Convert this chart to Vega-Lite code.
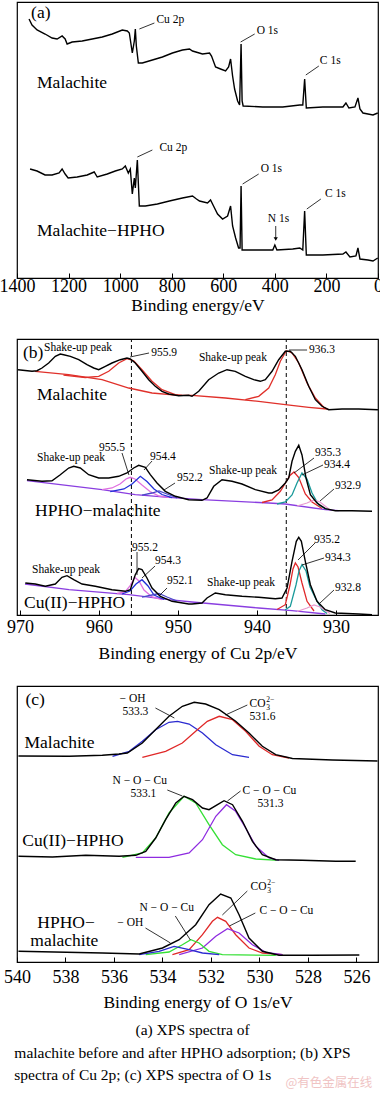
{
"$schema": "https://vega.github.io/schema/vega-lite/v6.json",
"padding": {"left": -2, "top": 1, "right": 0, "bottom": 0},
"spacing": 22,
"resolve": {"scale": {"color": "independent"}},
"config": {
  "view": {"stroke": "black", "strokeWidth": 1.2},
  "axis": {"labelFont": "Liberation Serif", "titleFont": "Liberation Serif", "labelFontSize": 18, "titleFontSize": 17.5, "titleFontWeight": "normal", "labelColor": "black", "titleColor": "black", "grid": false, "domain": false, "tickSize": -5, "tickColor": "black", "labelFlush": false, "labelOverlap": false, "format": "d"},
  "text": {"font": "Liberation Serif", "align": "left", "baseline": "middle", "color": "black"}
},
"datasets": {
  "a_meas": [
    {"s":"m","E":1353.3,"I":259},{"s":"m","E":1341.7,"I":253},{"s":"m","E":1322.2,"I":248},{"s":"m","E":1291.1,"I":244},{"s":"m","E":1263.9,"I":240},{"s":"m","E":1244.4,"I":239},{"s":"m","E":1225.0,"I":242},{"s":"m","E":1213.3,"I":239},{"s":"m","E":1205.6,"I":234},{"s":"m","E":1186.1,"I":236},{"s":"m","E":1147.2,"I":237},{"s":"m","E":1108.3,"I":239},{"s":"m","E":1069.4,"I":241},{"s":"m","E":1030.6,"I":244},{"s":"m","E":991.7,"I":248},{"s":"m","E":972.2,"I":247},{"s":"m","E":964.4,"I":245},{"s":"m","E":952.8,"I":225},{"s":"m","E":945.0,"I":237},{"s":"m","E":941.1,"I":249},{"s":"m","E":937.2,"I":232},{"s":"m","E":929.4,"I":215},{"s":"m","E":913.9,"I":215},{"s":"m","E":875.0,"I":218},{"s":"m","E":836.1,"I":221},{"s":"m","E":797.2,"I":225},{"s":"m","E":758.3,"I":228},{"s":"m","E":731.1,"I":229},{"s":"m","E":719.4,"I":227},{"s":"m","E":680.6,"I":224},{"s":"m","E":653.3,"I":225},{"s":"m","E":645.6,"I":222},{"s":"m","E":630.0,"I":211},{"s":"m","E":610.6,"I":209},{"s":"m","E":591.1,"I":207},{"s":"m","E":579.4,"I":211},{"s":"m","E":571.7,"I":219},{"s":"m","E":563.9,"I":202},{"s":"m","E":556.1,"I":189},{"s":"m","E":544.4,"I":177},{"s":"m","E":536.7,"I":173},{"s":"m","E":531.0,"I":234},{"s":"m","E":527.0,"I":177},{"s":"m","E":523.0,"I":172},{"s":"m","E":447.2,"I":171},{"s":"m","E":369.4,"I":171},{"s":"m","E":303.3,"I":173},{"s":"m","E":291.7,"I":173},{"s":"m","E":284.5,"I":199},{"s":"m","E":278.0,"I":170},{"s":"m","E":213.9,"I":171},{"s":"m","E":136.1,"I":171},{"s":"m","E":124.4,"I":175},{"s":"m","E":112.8,"I":170},{"s":"m","E":89.4,"I":171},{"s":"m","E":77.8,"I":180},{"s":"m","E":70.0,"I":169},{"s":"m","E":58.3,"I":165},{"s":"m","E":19.4,"I":163},{"s":"m","E":1.0,"I":165},
    {"s":"h","E":1349.4,"I":109},{"s":"h","E":1322.2,"I":107},{"s":"h","E":1291.1,"I":103},{"s":"h","E":1263.9,"I":103},{"s":"h","E":1236.7,"I":105},{"s":"h","E":1225.0,"I":109},{"s":"h","E":1213.3,"I":104},{"s":"h","E":1201.7,"I":100},{"s":"h","E":1166.7,"I":101},{"s":"h","E":1127.8,"I":103},{"s":"h","E":1100.6,"I":106},{"s":"h","E":1088.9,"I":101},{"s":"h","E":1050.0,"I":104},{"s":"h","E":1018.9,"I":107},{"s":"h","E":991.7,"I":109},{"s":"h","E":980.0,"I":112},{"s":"h","E":968.3,"I":105},{"s":"h","E":960.6,"I":109},{"s":"h","E":952.8,"I":84},{"s":"h","E":945.0,"I":100},{"s":"h","E":941.1,"I":90},{"s":"h","E":933.3,"I":118},{"s":"h","E":925.6,"I":72},{"s":"h","E":902.2,"I":72},{"s":"h","E":855.6,"I":74},{"s":"h","E":808.9,"I":77},{"s":"h","E":758.3,"I":80},{"s":"h","E":719.4,"I":82},{"s":"h","E":703.9,"I":79},{"s":"h","E":692.2,"I":77},{"s":"h","E":661.1,"I":75},{"s":"h","E":649.4,"I":78},{"s":"h","E":637.8,"I":72},{"s":"h","E":622.2,"I":64},{"s":"h","E":602.8,"I":59},{"s":"h","E":583.3,"I":62},{"s":"h","E":571.7,"I":72},{"s":"h","E":563.9,"I":52},{"s":"h","E":552.2,"I":40},{"s":"h","E":540.6,"I":30},{"s":"h","E":535.0,"I":30},{"s":"h","E":531.0,"I":92},{"s":"h","E":527.0,"I":28},{"s":"h","E":466.7,"I":28},{"s":"h","E":420.0,"I":28},{"s":"h","E":408.0,"I":28},{"s":"h","E":400.0,"I":33},{"s":"h","E":392.0,"I":28},{"s":"h","E":330.6,"I":29},{"s":"h","E":303.3,"I":30},{"s":"h","E":291.7,"I":28},{"s":"h","E":284.5,"I":67},{"s":"h","E":278.0,"I":23},{"s":"h","E":213.9,"I":23},{"s":"h","E":136.1,"I":24},{"s":"h","E":124.4,"I":26},{"s":"h","E":108.9,"I":21},{"s":"h","E":85.6,"I":22},{"s":"h","E":77.8,"I":30},{"s":"h","E":70.0,"I":19},{"s":"h","E":38.9,"I":18},{"s":"h","E":19.4,"I":17},{"s":"h","E":1.0,"I":20}
  ],
  "a_big": [{"t":"(a)","E":1345.5,"I":265},{"t":"Malachite","E":1322.2,"I":195},{"t":"Malachite−HPHO","E":1322.2,"I":47}],
  "a_small": [{"t":"Cu 2p","E":859.4,"I":258},{"t":"O 1s","E":470.5,"I":247},{"t":"C 1s","E":225.5,"I":217},{"t":"Cu 2p","E":847.7,"I":130},{"t":"O 1s","E":455,"I":109},{"t":"C 1s","E":206,"I":84},{"t":"N 1s","E":427.7,"I":59}],
  "a_lead": [{"E":925.5,"I":249,"E2":867.2,"I2":255},{"E":532.7,"I":236,"E2":478.3,"I2":244},{"E":280,"I":203,"E2":229.4,"I2":212},{"E":933.3,"I":121,"E2":875,"I2":128},{"E":525,"I":94,"E2":462.7,"I2":104},{"E":276.1,"I":69,"E2":221.6,"I2":79},{"E":396.6,"I":52,"E2":396.6,"I2":40}],
  "a_arrow": [{"E":396.6,"I":39}],
  "b_meas": [
    {"s":"b_m","E":970.25,"I":245.3},{"s":"b_m","E":968.48,"I":243.7},{"s":"b_m","E":967.85,"I":244.3},{"s":"b_m","E":967.22,"I":247},{"s":"b_m","E":966.37,"I":252},{"s":"b_m","E":965.53,"I":258.7},{"s":"b_m","E":964.9,"I":261},{"s":"b_m","E":964.47,"I":260.3},{"s":"b_m","E":963.63,"I":258.7},{"s":"b_m","E":962.57,"I":255.3},{"s":"b_m","E":961.52,"I":250.3},{"s":"b_m","E":960.67,"I":247},{"s":"b_m","E":960.04,"I":245.3},{"s":"b_m","E":959.2,"I":248.7},{"s":"b_m","E":958.36,"I":252},{"s":"b_m","E":957.31,"I":255.3},{"s":"b_m","E":956.46,"I":257},{"s":"b_m","E":956.04,"I":256},{"s":"b_m","E":955.41,"I":252},{"s":"b_m","E":954.56,"I":243.7},{"s":"b_m","E":953.71,"I":235.3},{"s":"b_m","E":952.88,"I":228.7},{"s":"b_m","E":952.03,"I":223.7},{"s":"b_m","E":951.18,"I":221},{"s":"b_m","E":949.91,"I":219.3},{"s":"b_m","E":948.65,"I":219.7},{"s":"b_m","E":948.23,"I":218.7},{"s":"b_m","E":947.38,"I":223.7},{"s":"b_m","E":946.12,"I":235.3},{"s":"b_m","E":944.85,"I":242},{"s":"b_m","E":943.8,"I":245.3},{"s":"b_m","E":942.75,"I":243.7},{"s":"b_m","E":941.48,"I":238.7},{"s":"b_m","E":940.42,"I":235.3},{"s":"b_m","E":939.58,"I":233.7},{"s":"b_m","E":938.95,"I":235.3},{"s":"b_m","E":938.1,"I":243.7},{"s":"b_m","E":937.26,"I":255.3},{"s":"b_m","E":936.42,"I":263.7},{"s":"b_m","E":935.79,"I":263.7},{"s":"b_m","E":935.15,"I":258.7},{"s":"b_m","E":934.31,"I":245.3},{"s":"b_m","E":933.46,"I":228.7},{"s":"b_m","E":932.62,"I":215.3},{"s":"b_m","E":931.77,"I":208.7},{"s":"b_m","E":930.93,"I":205.3},{"s":"b_m","E":929.24,"I":206},{"s":"b_m","E":927.13,"I":206},{"s":"b_m","E":924.7,"I":205.3},
    {"s":"b_h","E":969.12,"I":135.3},{"s":"b_h","E":967.22,"I":133.7},{"s":"b_h","E":965.95,"I":134.3},{"s":"b_h","E":964.9,"I":140.3},{"s":"b_h","E":963.84,"I":147},{"s":"b_h","E":963.2,"I":148.7},{"s":"b_h","E":962.37,"I":147},{"s":"b_h","E":961.31,"I":140.3},{"s":"b_h","E":960.04,"I":137},{"s":"b_h","E":958.77,"I":137},{"s":"b_h","E":957.51,"I":138.7},{"s":"b_h","E":956.46,"I":142},{"s":"b_h","E":955.61,"I":147},{"s":"b_h","E":954.98,"I":149.7},{"s":"b_h","E":954.14,"I":147.7},{"s":"b_h","E":953.51,"I":140.3},{"s":"b_h","E":952.66,"I":132},{"s":"b_h","E":951.61,"I":123.7},{"s":"b_h","E":950.34,"I":118.7},{"s":"b_h","E":948.65,"I":115.3},{"s":"b_h","E":946.96,"I":114.7},{"s":"b_h","E":946.33,"I":117},{"s":"b_h","E":945.48,"I":128.7},{"s":"b_h","E":944.43,"I":135.3},{"s":"b_h","E":943.17,"I":133.7},{"s":"b_h","E":941.9,"I":131},{"s":"b_h","E":940.22,"I":125.3},{"s":"b_h","E":938.52,"I":122},{"s":"b_h","E":938.1,"I":122},{"s":"b_h","E":937.26,"I":125},{"s":"b_h","E":936.42,"I":132},{"s":"b_h","E":935.99,"I":137},{"s":"b_h","E":935.57,"I":153.7},{"s":"b_h","E":935.15,"I":163.7},{"s":"b_h","E":934.72,"I":169.7},{"s":"b_h","E":934.31,"I":160},{"s":"b_h","E":933.8,"I":137},{"s":"b_h","E":933.25,"I":120.3},{"s":"b_h","E":932.41,"I":112},{"s":"b_h","E":931.36,"I":106.3},{"s":"b_h","E":930.09,"I":104.3},{"s":"b_h","E":927.98,"I":104.3},{"s":"b_h","E":925.45,"I":103.7},
    {"s":"b_c","E":969.33,"I":32},{"s":"b_c","E":968.06,"I":31},{"s":"b_c","E":966.8,"I":28.7},{"s":"b_c","E":965.53,"I":31},{"s":"b_c","E":964.69,"I":37.7},{"s":"b_c","E":964.05,"I":39.3},{"s":"b_c","E":963.2,"I":35.3},{"s":"b_c","E":962.15,"I":31},{"s":"b_c","E":960.47,"I":28.7},{"s":"b_c","E":958.36,"I":25.3},{"s":"b_c","E":956.67,"I":23.7},{"s":"b_c","E":956.04,"I":25.3},{"s":"b_c","E":955.41,"I":40.3},{"s":"b_c","E":954.98,"I":46.3},{"s":"b_c","E":954.56,"I":45.3},{"s":"b_c","E":953.93,"I":37},{"s":"b_c","E":953.29,"I":27},{"s":"b_c","E":952.24,"I":18.7},{"s":"b_c","E":950.76,"I":13.7},{"s":"b_c","E":948.65,"I":11},{"s":"b_c","E":948.23,"I":11},{"s":"b_c","E":946.96,"I":12},{"s":"b_c","E":946.33,"I":17},{"s":"b_c","E":945.28,"I":22},{"s":"b_c","E":944.01,"I":20.3},{"s":"b_c","E":941.9,"I":18.7},{"s":"b_c","E":939.79,"I":17.7},{"s":"b_c","E":937.69,"I":16.3},{"s":"b_c","E":936.84,"I":17},{"s":"b_c","E":936.2,"I":27},{"s":"b_c","E":935.57,"I":53.7},{"s":"b_c","E":935.03,"I":73.7},{"s":"b_c","E":934.72,"I":77.7},{"s":"b_c","E":934.39,"I":73.7},{"s":"b_c","E":933.89,"I":53.7},{"s":"b_c","E":933.25,"I":30.3},{"s":"b_c","E":932.41,"I":13.7},{"s":"b_c","E":931.36,"I":5.3},{"s":"b_c","E":930.09,"I":2},{"s":"b_c","E":927.13,"I":1},{"s":"b_c","E":925.45,"I":0.3}
  ],
  "b_fit": [
    {"s":"b_mb","E":968.1,"I":243.7},{"s":"b_mb","E":963.84,"I":240.3},{"s":"b_mb","E":959.62,"I":235.3},{"s":"b_mb","E":956.24,"I":227},{"s":"b_mb","E":953.29,"I":222},{"s":"b_mb","E":949.91,"I":219.7},{"s":"b_mb","E":948.23,"I":219.7},{"s":"b_mb","E":944.01,"I":217},{"s":"b_mb","E":939.79,"I":213.7},{"s":"b_mb","E":936.42,"I":210.3},{"s":"b_mb","E":933.46,"I":207.7},{"s":"b_mb","E":931.14,"I":206},
    {"s":"b_mf1","E":964.5,"I":239.8},{"s":"b_mf1","E":961.74,"I":237.5},{"s":"b_mf1","E":960.04,"I":238.7},{"s":"b_mf1","E":958.77,"I":243.7},{"s":"b_mf1","E":957.51,"I":252},{"s":"b_mf1","E":956.46,"I":256.3},{"s":"b_mf1","E":955.61,"I":254.3},{"s":"b_mf1","E":954.56,"I":245.3},{"s":"b_mf1","E":953.29,"I":233.7},{"s":"b_mf1","E":952.03,"I":225.3},{"s":"b_mf1","E":950.34,"I":220.3},{"s":"b_mf1","E":949.5,"I":219.6},
    {"s":"b_mf2","E":941.48,"I":215.3},{"s":"b_mf2","E":939.79,"I":218.7},{"s":"b_mf2","E":938.52,"I":227},{"s":"b_mf2","E":937.69,"I":240.3},{"s":"b_mf2","E":937.05,"I":253.7},{"s":"b_mf2","E":936.29,"I":264.3},{"s":"b_mf2","E":935.57,"I":262},{"s":"b_mf2","E":934.72,"I":252},{"s":"b_mf2","E":933.67,"I":232},{"s":"b_mf2","E":932.62,"I":217},{"s":"b_mf2","E":931.56,"I":207.7},{"s":"b_mf2","E":930.93,"I":205.5},
    {"s":"b_hb","E":969.12,"I":134.3},{"s":"b_hb","E":959.62,"I":125.3},{"s":"b_hb","E":955.41,"I":120.3},{"s":"b_hb","E":951.18,"I":117.7},{"s":"b_hb","E":946.96,"I":115.3},{"s":"b_hb","E":938.52,"I":112},{"s":"b_hb","E":936.42,"I":111},{"s":"b_hb","E":931.36,"I":105.3},{"s":"b_hb","E":929.66,"I":104.3},
    {"s":"b_h1","E":959.62,"I":125.3},{"s":"b_h1","E":958.36,"I":127},{"s":"b_h1","E":957.34,"I":131},{"s":"b_h1","E":956.58,"I":136},{"s":"b_h1","E":956.04,"I":137.7},{"s":"b_h1","E":955.45,"I":136},{"s":"b_h1","E":954.56,"I":130},{"s":"b_h1","E":953.55,"I":123.5},{"s":"b_h1","E":952.41,"I":119},{"s":"b_h1","E":951.14,"I":117.7},
    {"s":"b_h2","E":958.58,"I":123.3},{"s":"b_h2","E":956.84,"I":126},{"s":"b_h2","E":955.82,"I":131},{"s":"b_h2","E":954.77,"I":138.7},{"s":"b_h2","E":953.93,"I":133.5},{"s":"b_h2","E":953.04,"I":126},{"s":"b_h2","E":952.03,"I":120.5},{"s":"b_h2","E":950.76,"I":117.3},
    {"s":"b_h3","E":954.56,"I":119.8},{"s":"b_h3","E":953.29,"I":122},{"s":"b_h3","E":952.41,"I":124},{"s":"b_h3","E":951.39,"I":121},{"s":"b_h3","E":950.13,"I":117.2},
    {"s":"b_h4","E":939.37,"I":112.5},{"s":"b_h4","E":938.1,"I":115},{"s":"b_h4","E":937.05,"I":123.7},{"s":"b_h4","E":936.33,"I":133},{"s":"b_h4","E":935.83,"I":139.5},{"s":"b_h4","E":935.32,"I":143},{"s":"b_h4","E":934.72,"I":137.5},{"s":"b_h4","E":933.89,"I":121},{"s":"b_h4","E":933.04,"I":113},{"s":"b_h4","E":931.77,"I":106.5},
    {"s":"b_h5","E":937.47,"I":111},{"s":"b_h5","E":936.42,"I":113},{"s":"b_h5","E":935.57,"I":120},{"s":"b_h5","E":934.94,"I":132},{"s":"b_h5","E":934.31,"I":142},{"s":"b_h5","E":933.67,"I":136},{"s":"b_h5","E":933.04,"I":122},{"s":"b_h5","E":932.19,"I":110},{"s":"b_h5","E":931.14,"I":105.5},
    {"s":"b_h6","E":934.94,"I":109},{"s":"b_h6","E":933.67,"I":112},{"s":"b_h6","E":932.79,"I":115},{"s":"b_h6","E":932.03,"I":113},{"s":"b_h6","E":930.76,"I":105},
    {"s":"b_cb","E":969.37,"I":31},{"s":"b_cb","E":963.8,"I":25.3},{"s":"b_cb","E":956.21,"I":20.3},{"s":"b_cb","E":951.14,"I":15.3},{"s":"b_cb","E":948.23,"I":13},{"s":"b_cb","E":939.79,"I":7},{"s":"b_cb","E":935.57,"I":4.3},{"s":"b_cb","E":931.36,"I":1},
    {"s":"b_c1","E":957.72,"I":21.5},{"s":"b_c1","E":956.71,"I":23},{"s":"b_c1","E":956.08,"I":29},{"s":"b_c1","E":955.48,"I":37.7},{"s":"b_c1","E":954.94,"I":34},{"s":"b_c1","E":954.31,"I":25},{"s":"b_c1","E":953.29,"I":18},{"s":"b_c1","E":952.03,"I":15.5},
    {"s":"b_c2","E":957.09,"I":21},{"s":"b_c2","E":956.08,"I":24},{"s":"b_c2","E":955.32,"I":31},{"s":"b_c2","E":954.56,"I":35.3},{"s":"b_c2","E":953.8,"I":29},{"s":"b_c2","E":953.04,"I":20},{"s":"b_c2","E":951.77,"I":15.5},
    {"s":"b_c3","E":954.56,"I":17.8},{"s":"b_c3","E":953.29,"I":20},{"s":"b_c3","E":952.41,"I":21.5},{"s":"b_c3","E":951.39,"I":18},{"s":"b_c3","E":950.13,"I":14},
    {"s":"b_c4","E":937.47,"I":5.5},{"s":"b_c4","E":936.42,"I":10.3},{"s":"b_c4","E":935.83,"I":30},{"s":"b_c4","E":935.45,"I":46},{"s":"b_c4","E":935.15,"I":52},{"s":"b_c4","E":934.81,"I":48},{"s":"b_c4","E":934.31,"I":32},{"s":"b_c4","E":933.67,"I":13.7},{"s":"b_c4","E":932.79,"I":4},
    {"s":"b_c5","E":936.46,"I":5},{"s":"b_c5","E":935.79,"I":8.7},{"s":"b_c5","E":935.07,"I":30},{"s":"b_c5","E":934.69,"I":44},{"s":"b_c5","E":934.31,"I":50.3},{"s":"b_c5","E":933.8,"I":44},{"s":"b_c5","E":933.29,"I":28},{"s":"b_c5","E":932.62,"I":17},{"s":"b_c5","E":931.77,"I":5.3},{"s":"b_c5","E":931.14,"I":1.5},
    {"s":"b_c6","E":934.94,"I":3.5},{"s":"b_c6","E":933.67,"I":7},{"s":"b_c6","E":932.79,"I":10},{"s":"b_c6","E":932.03,"I":8},{"s":"b_c6","E":930.76,"I":1.5}
  ],
  "b_dash": [{"E":955.9,"I":0,"I2":276},{"E":936.3,"I":0,"I2":276}],
  "b_big": [{"t":"(b)","E":969.62,"I":262},{"t":"Malachite","E":967.85,"I":220},{"t":"HPHO−malachite","E":968.1,"I":104},{"t":"Cu(II)−HPHO","E":969.5,"I":12}],
  "b_small": [{"t":"Shake-up peak","E":966.96,"I":267},{"t":"955.9","E":953.4,"I":262},{"t":"Shake-up peak","E":947.35,"I":257},{"t":"936.3","E":933.42,"I":265},{"t":"955.5","E":960.0,"I":167},{"t":"Shake-up peak","E":967.85,"I":157},{"t":"954.4","E":953.55,"I":158},{"t":"952.2","E":950.13,"I":137},{"t":"Shake-up peak","E":946.08,"I":144},{"t":"935.3","E":932.66,"I":162},{"t":"934.4","E":931.52,"I":150},{"t":"932.9","E":930.13,"I":129},{"t":"955.2","E":955.82,"I":67},{"t":"954.3","E":952.91,"I":54},{"t":"952.1","E":951.39,"I":34},{"t":"Shake-up peak","E":968.48,"I":45},{"t":"Shake-up peak","E":946.33,"I":32},{"t":"935.2","E":932.79,"I":75},{"t":"934.3","E":931.4,"I":57},{"t":"932.8","E":930.13,"I":27}],
  "b_lead": [{"E":956.08,"I":258,"E2":953.67,"I2":262},{"E":935.95,"I":265,"E2":933.67,"I2":265},{"E":957.09,"I":162,"E2":956.21,"I2":140},{"E":954.31,"I":145,"E2":953.29,"I2":154},{"E":951.77,"I":125,"E2":950.38,"I2":132},{"E":935.32,"I":142,"E2":932.79,"I2":157},{"E":934.31,"I":140,"E2":931.65,"I2":150},{"E":932.03,"I":114,"E2":930.26,"I2":126},{"E":955.19,"I":63,"E2":955.19,"I2":40},{"E":954.56,"I":37,"E2":952.91,"I2":49},{"E":952.41,"I":19,"E2":951.39,"I2":27},{"E":934.81,"I":55,"E2":932.66,"I2":72},{"E":934.31,"I":50,"E2":931.52,"I2":57},{"E":932.03,"I":12,"E2":930.26,"I2":25}],
  "c_meas": [
    {"s":"c_m","E":539.94,"I":206},{"s":"c_m","E":537.85,"I":205.7},{"s":"c_m","E":536.48,"I":206.7},{"s":"c_m","E":535.79,"I":208},{"s":"c_m","E":535.45,"I":209},{"s":"c_m","E":534.83,"I":219},{"s":"c_m","E":534.29,"I":232.3},{"s":"c_m","E":533.73,"I":245.7},{"s":"c_m","E":533.18,"I":255.7},{"s":"c_m","E":532.69,"I":259.7},{"s":"c_m","E":532.22,"I":258},{"s":"c_m","E":531.66,"I":252.3},{"s":"c_m","E":530.98,"I":240.7},{"s":"c_m","E":530.43,"I":229},{"s":"c_m","E":529.88,"I":215.7},{"s":"c_m","E":529.33,"I":207.3},{"s":"c_m","E":528.64,"I":203.5},{"s":"c_m","E":526.99,"I":202},{"s":"c_m","E":525.13,"I":201},
    {"s":"c_c","E":539.94,"I":105.7},{"s":"c_c","E":538.54,"I":105},{"s":"c_c","E":537.16,"I":106.7},{"s":"c_c","E":535.79,"I":105.7},{"s":"c_c","E":535.1,"I":106.7},{"s":"c_c","E":534.69,"I":110.7},{"s":"c_c","E":534.28,"I":124},{"s":"c_c","E":533.87,"I":142.3},{"s":"c_c","E":533.45,"I":159},{"s":"c_c","E":533.11,"I":165.7},{"s":"c_c","E":532.76,"I":162.3},{"s":"c_c","E":532.35,"I":154},{"s":"c_c","E":532.08,"I":152.3},{"s":"c_c","E":531.73,"I":157.3},{"s":"c_c","E":531.46,"I":161.3},{"s":"c_c","E":531.11,"I":157.3},{"s":"c_c","E":530.7,"I":140.7},{"s":"c_c","E":530.29,"I":120.7},{"s":"c_c","E":529.88,"I":107.3},{"s":"c_c","E":529.33,"I":102.3},{"s":"c_c","E":528.23,"I":101.7},{"s":"c_c","E":526.85,"I":100.7},{"s":"c_c","E":526.03,"I":100.7},
    {"s":"c_h","E":539.94,"I":10.7},{"s":"c_h","E":536.48,"I":9},{"s":"c_h","E":534.96,"I":8},{"s":"c_h","E":534.0,"I":14},{"s":"c_h","E":533.31,"I":22.3},{"s":"c_h","E":532.63,"I":37.3},{"s":"c_h","E":532.08,"I":57.3},{"s":"c_h","E":531.6,"I":68},{"s":"c_h","E":531.18,"I":64},{"s":"c_h","E":530.84,"I":47.3},{"s":"c_h","E":530.43,"I":24},{"s":"c_h","E":529.88,"I":10.7},{"s":"c_h","E":529.19,"I":6.7},{"s":"c_h","E":527.82,"I":6.7},{"s":"c_h","E":525.88,"I":7}
  ],
  "c_fit": [
    {"s":"c_m1","E":536.06,"I":205.7},{"s":"c_m1","E":535.37,"I":210.7},{"s":"c_m1","E":534.83,"I":220.7},{"s":"c_m1","E":534.28,"I":232.3},{"s":"c_m1","E":533.73,"I":239.7},{"s":"c_m1","E":533.38,"I":240.7},{"s":"c_m1","E":532.9,"I":238},{"s":"c_m1","E":532.35,"I":229},{"s":"c_m1","E":531.8,"I":217.3},{"s":"c_m1","E":531.11,"I":207.3},{"s":"c_m1","E":530.43,"I":204.7},
    {"s":"c_m2","E":534.83,"I":204.7},{"s":"c_m2","E":533.87,"I":210.7},{"s":"c_m2","E":533.18,"I":219},{"s":"c_m2","E":532.63,"I":230.7},{"s":"c_m2","E":532.15,"I":240.7},{"s":"c_m2","E":531.66,"I":245.7},{"s":"c_m2","E":531.11,"I":242.3},{"s":"c_m2","E":530.57,"I":230.7},{"s":"c_m2","E":530.01,"I":215.7},{"s":"c_m2","E":529.47,"I":207.3},{"s":"c_m2","E":528.78,"I":204},
    {"s":"c_c1","E":535.65,"I":104.7},{"s":"c_c1","E":534.83,"I":109},{"s":"c_c1","E":534.28,"I":124},{"s":"c_c1","E":533.73,"I":149},{"s":"c_c1","E":533.11,"I":165.7},{"s":"c_c1","E":532.63,"I":159},{"s":"c_c1","E":532.08,"I":137.3},{"s":"c_c1","E":531.53,"I":117.3},{"s":"c_c1","E":530.98,"I":107.3},{"s":"c_c1","E":530.15,"I":103},{"s":"c_c1","E":529.19,"I":101.7},
    {"s":"c_c2","E":535.1,"I":104.7},{"s":"c_c2","E":533.73,"I":104.7},{"s":"c_c2","E":532.9,"I":109},{"s":"c_c2","E":532.35,"I":122.3},{"s":"c_c2","E":531.8,"I":145.7},{"s":"c_c2","E":531.36,"I":157.3},{"s":"c_c2","E":530.98,"I":150.7},{"s":"c_c2","E":530.57,"I":134},{"s":"c_c2","E":530.15,"I":115.7},{"s":"c_c2","E":529.6,"I":104},{"s":"c_c2","E":529.19,"I":101.7},
    {"s":"c_h1","E":533.59,"I":7.3},{"s":"c_h1","E":532.9,"I":12.3},{"s":"c_h1","E":532.35,"I":27.3},{"s":"c_h1","E":531.94,"I":40.7},{"s":"c_h1","E":531.73,"I":44.7},{"s":"c_h1","E":531.39,"I":40.7},{"s":"c_h1","E":530.98,"I":27.3},{"s":"c_h1","E":530.43,"I":14},{"s":"c_h1","E":529.88,"I":9},{"s":"c_h1","E":529.05,"I":7.3},
    {"s":"c_h2","E":533.31,"I":7.3},{"s":"c_h2","E":532.35,"I":14},{"s":"c_h2","E":531.8,"I":25.7},{"s":"c_h2","E":531.32,"I":33.3},{"s":"c_h2","E":530.84,"I":29},{"s":"c_h2","E":530.29,"I":17.3},{"s":"c_h2","E":529.74,"I":9.7},{"s":"c_h2","E":529.05,"I":7.3},
    {"s":"c_h3","E":534.69,"I":7.3},{"s":"c_h3","E":533.73,"I":10},{"s":"c_h3","E":533.18,"I":17.3},{"s":"c_h3","E":532.83,"I":22.3},{"s":"c_h3","E":532.49,"I":19},{"s":"c_h3","E":532.08,"I":10.7},{"s":"c_h3","E":531.53,"I":7.3},{"s":"c_h3","E":529.33,"I":6.7},
    {"s":"c_h4","E":534.96,"I":7.3},{"s":"c_h4","E":534.14,"I":10.7},{"s":"c_h4","E":533.52,"I":15.7},{"s":"c_h4","E":532.9,"I":12.3},{"s":"c_h4","E":532.35,"I":9},{"s":"c_h4","E":531.66,"I":7.3}
  ],
  "c_big": [{"t":"(c)","E":539.65,"I":262},{"t":"Malachite","E":539.69,"I":219},{"t":"Cu(II)−HPHO","E":539.78,"I":121},{"t":"HPHO−","E":539.16,"I":39},{"t":"malachite","E":539.45,"I":21}],
  "c_small": [{"t":"− OH","E":535.77,"I":263},{"t":"533.3","E":535.65,"I":250.5},{"t":"CO","E":530.41,"I":258},{"t":"531.6","E":530.41,"I":245},{"t":"N − O − Cu","E":536.06,"I":181},{"t":"533.1","E":535.32,"I":168},{"t":"C − O − Cu","E":530.7,"I":171},{"t":"531.3","E":530.08,"I":158.5},{"t":"− OH","E":535.86,"I":39},{"t":"N − O − Cu","E":534.95,"I":54},{"t":"CO","E":530.37,"I":75},{"t":"C − O − Cu","E":530.0,"I":51}],
  "c_tiny": [{"t":"2−","E":529.72,"I":262},{"t":"3","E":529.72,"I":254},{"t":"2−","E":529.68,"I":79},{"t":"3","E":529.68,"I":71}],
  "c_lead": [{"E":534.29,"I":254,"E2":533.51,"I2":244},{"E":530.5,"I":257,"E2":531.4,"I2":247},{"E":533.8,"I":172,"E2":533.18,"I2":166},{"E":530.78,"I":171,"E2":531.32,"I2":161},{"E":534.7,"I":34,"E2":533.67,"I2":19},{"E":533.47,"I":46,"E2":532.85,"I2":22},{"E":530.5,"I":71,"E2":531.53,"I2":47},{"E":530.17,"I":49,"E2":531.24,"I2":36}],
  "cap_center": [{"t":"(a) XPS spectra of","E":532.76,"I":-68}],
  "cap_left": [{"t":"malachite before and after HPHO adsorption; (b) XPS","E":540.11,"I":-91},{"t":"spectra of Cu 2p; (c) XPS spectra of O 1s","E":540.11,"I":-113}],
  "cap_wm": [{"t":"@有色金属在线","E":528.93,"I":-121}]
},
"vconcat": [
  {
    "width": 361, "height": 276,
    "encoding": {
      "x": {"field": "E", "type": "quantitative", "scale": {"domain": [0, 1400], "reverse": true, "nice": false, "zero": false}, "axis": {"values": [0, 200, 400, 600, 800, 1000, 1200, 1400], "title": "Binding energy/eV", "labelPadding": 4, "titlePadding": 1}},
      "y": {"field": "I", "type": "quantitative", "scale": {"domain": [0, 276], "nice": false, "zero": false}, "axis": null}
    },
    "layer": [
      {"data": {"name": "a_meas"}, "mark": {"type": "line", "strokeWidth": 1.4, "color": "black"}, "encoding": {"detail": {"field": "s", "type": "nominal"}, "order": {"field": "E", "type": "quantitative"}}},
      {"data": {"name": "a_lead"}, "mark": {"type": "rule", "color": "black", "strokeWidth": 0.8}, "encoding": {"x2": {"field": "E2"}, "y2": {"field": "I2"}}},
      {"data": {"name": "a_arrow"}, "mark": {"type": "point", "shape": "triangle-down", "filled": true, "color": "black", "size": 18, "opacity": 1}},
      {"data": {"name": "a_big"}, "mark": {"type": "text", "fontSize": 17.5}, "encoding": {"text": {"field": "t", "type": "nominal"}}},
      {"data": {"name": "a_small"}, "mark": {"type": "text", "fontSize": 11.5}, "encoding": {"text": {"field": "t", "type": "nominal"}}}
    ]
  },
  {
    "width": 361, "height": 276,
    "encoding": {
      "x": {"field": "E", "type": "quantitative", "scale": {"domain": [924.69, 970.38], "reverse": true, "nice": false, "zero": false}, "axis": {"values": [930, 940, 950, 960, 970], "title": "Binding energy of Cu 2p/eV", "labelPadding": 8, "titlePadding": 8}},
      "y": {"field": "I", "type": "quantitative", "scale": {"domain": [0, 276], "nice": false, "zero": false}, "axis": null}
    },
    "layer": [
      {"data": {"name": "b_dash"}, "mark": {"type": "rule", "color": "black", "strokeWidth": 1, "strokeDash": [4, 3]}, "encoding": {"y2": {"field": "I2"}}},
      {"data": {"name": "b_fit"}, "mark": {"type": "line", "strokeWidth": 1.3}, "encoding": {"color": {"field": "s", "type": "nominal", "legend": null, "scale": {"domain": ["b_mb","b_mf1","b_mf2","b_hb","b_h1","b_h2","b_h3","b_h4","b_h5","b_h6","b_cb","b_c1","b_c2","b_c3","b_c4","b_c5","b_c6"], "range": ["#e0302a","#e0302a","#e0302a","#8a3ee0","#e070e0","#2230d8","#4a48c8","#e0282a","#1a9a9a","#e99ad0","#8a3ee0","#e070e0","#2230d8","#4a48c8","#e0282a","#1a9a9a","#e99ad0"]}}, "order": {"field": "E", "type": "quantitative"}}},
      {"data": {"name": "b_meas"}, "mark": {"type": "line", "strokeWidth": 1.4, "color": "black"}, "encoding": {"detail": {"field": "s", "type": "nominal"}, "order": {"field": "E", "type": "quantitative"}}},
      {"data": {"name": "b_lead"}, "mark": {"type": "rule", "color": "black", "strokeWidth": 0.8}, "encoding": {"x2": {"field": "E2"}, "y2": {"field": "I2"}}},
      {"data": {"name": "b_big"}, "mark": {"type": "text", "fontSize": 17.5}, "encoding": {"text": {"field": "t", "type": "nominal"}}},
      {"data": {"name": "b_small"}, "mark": {"type": "text", "fontSize": 11.5}, "encoding": {"text": {"field": "t", "type": "nominal"}}}
    ]
  },
  {
    "width": 361, "height": 276,
    "encoding": {
      "x": {"field": "E", "type": "quantitative", "scale": {"domain": [525.11, 540], "reverse": true, "nice": false, "zero": false}, "axis": {"values": [526, 528, 530, 532, 534, 536, 538, 540], "title": "Binding energy of O 1s/eV", "labelPadding": 11, "titlePadding": 7}},
      "y": {"field": "I", "type": "quantitative", "scale": {"domain": [0, 276], "nice": false, "zero": false}, "axis": null}
    },
    "layer": [
      {"data": {"name": "c_fit"}, "mark": {"type": "line", "strokeWidth": 1.3}, "encoding": {"color": {"field": "s", "type": "nominal", "legend": null, "scale": {"domain": ["c_m1","c_m2","c_c1","c_c2","c_h1","c_h2","c_h3","c_h4"], "range": ["#2b2bd0","#e02828","#35e035","#8e2be0","#e02828","#8e2be0","#35e035","#2b2bd0"]}}, "order": {"field": "E", "type": "quantitative"}}},
      {"data": {"name": "c_meas"}, "mark": {"type": "line", "strokeWidth": 1.4, "color": "black"}, "encoding": {"detail": {"field": "s", "type": "nominal"}, "order": {"field": "E", "type": "quantitative"}}},
      {"data": {"name": "c_lead"}, "mark": {"type": "rule", "color": "black", "strokeWidth": 0.8}, "encoding": {"x2": {"field": "E2"}, "y2": {"field": "I2"}}},
      {"data": {"name": "c_big"}, "mark": {"type": "text", "fontSize": 17.5}, "encoding": {"text": {"field": "t", "type": "nominal"}}},
      {"data": {"name": "c_small"}, "mark": {"type": "text", "fontSize": 11.5}, "encoding": {"text": {"field": "t", "type": "nominal"}}},
      {"data": {"name": "c_tiny"}, "mark": {"type": "text", "fontSize": 7.5}, "encoding": {"text": {"field": "t", "type": "nominal"}}},
      {"data": {"name": "cap_center"}, "mark": {"type": "text", "fontSize": 15.5, "align": "center"}, "encoding": {"text": {"field": "t", "type": "nominal"}}},
      {"data": {"name": "cap_left"}, "mark": {"type": "text", "fontSize": 15.5}, "encoding": {"text": {"field": "t", "type": "nominal"}}},
      {"data": {"name": "cap_wm"}, "mark": {"type": "text", "fontSize": 12.5, "font": "Noto Sans CJK SC", "color": "#f0c4c4"}, "encoding": {"text": {"field": "t", "type": "nominal"}}}
    ]
  }
]
}
